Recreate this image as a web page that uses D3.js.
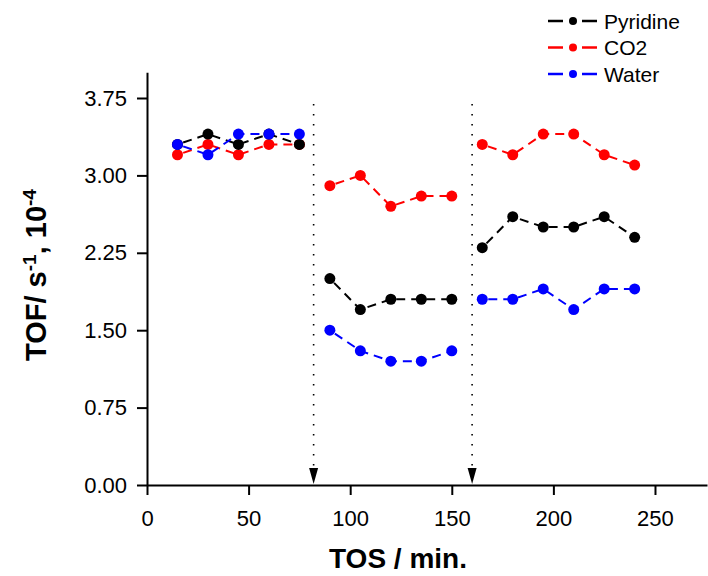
<!DOCTYPE html>
<html>
<head>
<meta charset="utf-8">
<script src="https://cdn.jsdelivr.net/npm/d3@7"></script>
<style>
  html, body { margin: 0; padding: 0; background: #fff; }
  svg { display: block; font-family: "Liberation Sans", Arial, sans-serif; }
</style>
</head>
<body>
<svg id="chart" width="708" height="576"></svg>
<script>
// Time on stream (min) for each measurement
const tos = [15, 30, 45, 60, 75, 90, 105, 120, 135, 150, 165, 180, 195, 210, 225, 240];

// Turnover frequency (s^-1, x10^-4) for each feed condition
const pyridine = [3.3, 3.4, 3.3, 3.4, 3.3, 2.0, 1.7, 1.8, 1.8, 1.8, 2.3, 2.6, 2.5, 2.5, 2.6, 2.4];
const co2      = [3.2, 3.3, 3.2, 3.3, 3.3, 2.9, 3.0, 2.7, 2.8, 2.8, 3.3, 3.2, 3.4, 3.4, 3.2, 3.1];
const water    = [3.3, 3.2, 3.4, 3.4, 3.4, 1.5, 1.3, 1.2, 1.2, 1.3, 1.8, 1.8, 1.9, 1.7, 1.9, 1.9];

// Times where the feed was switched (dotted markers)
const switchTimes = [82, 160];

// Axis ticks
const xMajor = [0, 50, 100, 150, 200, 250];
const xMinor = [25, 75, 125, 175, 225, 275];
const yMajor = [0, 0.75, 1.5, 2.25, 3.0, 3.75];
const yMinor = [0.375, 1.125, 1.875, 2.625, 3.375];

const seriesNames = ["Pyridine", "CO2", "Water"];
const seriesColors = ["#000000", "#ff0000", "#0000ff"];
const seriesValues = [pyridine, co2, water];

const svg = d3.select("#chart");

const x = d3.scaleLinear().domain([0, 275.6]).range([147, 707]);
const y = d3.scaleLinear().domain([0, 4]).range([485, 72.2]);

// Y axis
const yAxisG = svg.append("g").attr("transform", `translate(${x(0)},0)`);
yAxisG.call(d3.axisLeft(y).tickValues(yMinor).tickSize(5).tickSizeOuter(0).tickFormat(""));
yAxisG.call(d3.axisLeft(y).tickValues(yMajor).tickSize(10).tickSizeOuter(0).tickPadding(10)
  .tickFormat(d3.format(".2f")));
yAxisG.selectAll("path, line").attr("stroke", "#000").attr("stroke-width", 2);
yAxisG.selectAll("text").attr("font-size", 22).attr("fill", "#000");

// X axis
const xAxisG = svg.append("g").attr("transform", `translate(0,${y(0)})`);
xAxisG.call(d3.axisBottom(x).tickValues(xMinor).tickSize(5).tickSizeOuter(0).tickFormat(""));
xAxisG.call(d3.axisBottom(x).tickValues(xMajor).tickSize(10).tickSizeOuter(0).tickPadding(15)
  .tickFormat(d3.format("d")));
xAxisG.selectAll("path, line").attr("stroke", "#000").attr("stroke-width", 2);
xAxisG.selectAll("text").attr("font-size", 22).attr("fill", "#000");

// Axis titles
svg.append("text")
  .attr("x", 398).attr("y", 568)
  .attr("text-anchor", "middle")
  .attr("font-size", 28).attr("font-weight", "bold")
  .text("TOS / min.");

const yTitle = svg.append("text")
  .attr("transform", "translate(46,275) rotate(-90)")
  .attr("text-anchor", "middle")
  .attr("font-size", 29).attr("font-weight", "bold");
yTitle.append("tspan").text("TOF/ s");
yTitle.append("tspan").attr("font-size", 19).attr("baseline-shift", "10").text("-1");
yTitle.append("tspan").text(", 10");
yTitle.append("tspan").attr("font-size", 19).attr("baseline-shift", "10").text("-4");

// Feed-switch markers: dotted drop lines ending in arrowheads on the time axis
const markers = svg.append("g");
switchTimes.forEach(t => {
  markers.append("line")
    .attr("x1", x(t)).attr("x2", x(t))
    .attr("y1", 104).attr("y2", 468)
    .attr("stroke", "#000").attr("stroke-width", 1.6)
    .attr("stroke-dasharray", "1.6,8.4");
  markers.append("path")
    .attr("d", `M${x(t) - 4.5},${468} L${x(t) + 4.5},${468} L${x(t)},${484} Z`)
    .attr("fill", "#000");
});

// Split each series into separate runs between feed switches
function segmentsOf(values) {
  const bounds = [-Infinity, ...switchTimes, Infinity];
  const segs = [];
  for (let i = 0; i < bounds.length - 1; i++) {
    const pts = tos.map((t, j) => ({ t, v: values[j] }))
      .filter(p => p.t > bounds[i] && p.t < bounds[i + 1]);
    if (pts.length) segs.push(pts);
  }
  return segs;
}

const line = d3.line().x(d => x(d.t)).y(d => y(d.v));

// Draw order: CO2, Pyridine, Water (Water on top)
const drawOrder = [1, 0, 2];
drawOrder.forEach(k => {
  const g = svg.append("g");
  segmentsOf(seriesValues[k]).forEach(seg => {
    g.append("path")
      .attr("d", line(seg))
      .attr("fill", "none")
      .attr("stroke", seriesColors[k])
      .attr("stroke-width", 2)
      .attr("stroke-dasharray", "9,6")
      .attr("stroke-dashoffset", -6);
  });
  g.selectAll("circle")
    .data(tos.map((t, j) => ({ t, v: seriesValues[k][j] })))
    .join("circle")
    .attr("cx", d => x(d.t)).attr("cy", d => y(d.v))
    .attr("r", 5.5)
    .attr("fill", seriesColors[k]);
});

// Legend
const legend = svg.append("g");
seriesNames.forEach((name, i) => {
  const ly = 21 + i * 26.5;
  const row = legend.append("g");
  row.append("line").attr("x1", 548).attr("x2", 563).attr("y1", ly).attr("y2", ly)
    .attr("stroke", seriesColors[i]).attr("stroke-width", 2.5);
  row.append("line").attr("x1", 582).attr("x2", 597).attr("y1", ly).attr("y2", ly)
    .attr("stroke", seriesColors[i]).attr("stroke-width", 2.5);
  row.append("circle").attr("cx", 573).attr("cy", ly).attr("r", 4)
    .attr("fill", seriesColors[i]);
  row.append("text").attr("x", 604).attr("y", ly).attr("dy", "0.36em")
    .attr("font-size", 21).attr("fill", "#000").text(name);
});
</script>
</body>
</html>
